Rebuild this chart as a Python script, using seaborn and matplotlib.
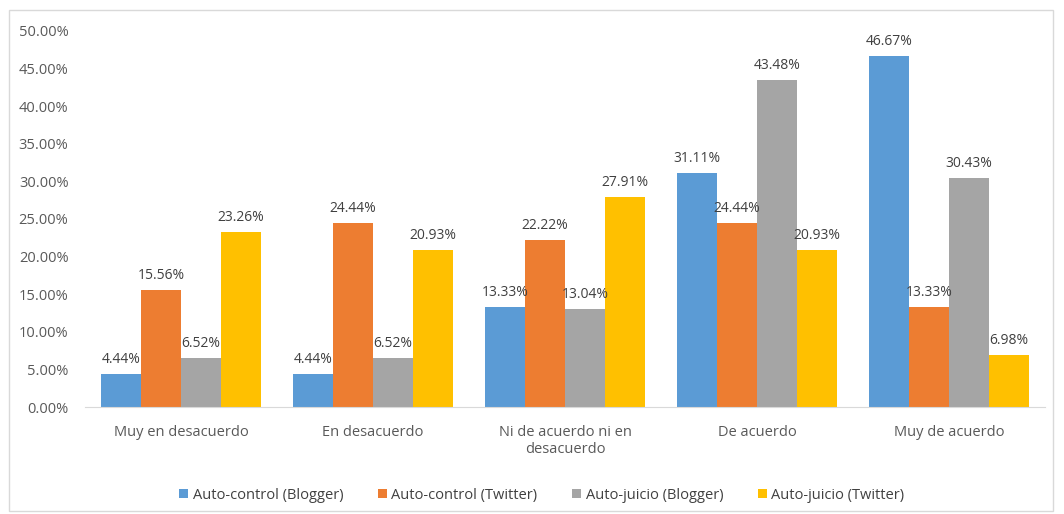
import pandas as pd
import matplotlib
matplotlib.use("Agg")
import matplotlib.pyplot as plt
import seaborn as sns
from matplotlib.patches import Rectangle

# datos
categorias = ["Muy en desacuerdo", "En desacuerdo", "Ni de acuerdo ni en\ndesacuerdo",
              "De acuerdo", "Muy de acuerdo"]
series = ["Auto-control (Blogger)", "Auto-control (Twitter)",
          "Auto-juicio (Blogger)", "Auto-juicio (Twitter)"]
control_blogger = [4.44, 4.44, 13.33, 31.11, 46.67]
control_twitter = [15.56, 24.44, 22.22, 24.44, 13.33]
juicio_blogger = [6.52, 6.52, 13.04, 43.48, 30.43]
juicio_twitter = [23.26, 20.93, 27.91, 20.93, 6.98]
colores = ["#5B9BD5", "#ED7D31", "#A5A5A5", "#FFC000"]

valores = [control_blogger, control_twitter, juicio_blogger, juicio_twitter]
df = pd.DataFrame([
    {"categoria": c, "serie": s, "valor": v / 100}
    for s, vals in zip(series, valores)
    for c, v in zip(categorias, vals)
])

sns.set_style("white")
plt.rcParams['font.family'] = ['Open Sans', 'DejaVu Sans']

fig = plt.figure(figsize=(10.64, 5.14), dpi=100)
ax = fig.add_axes([0.080, 0.208, 0.902, 0.732])
sns.barplot(data=df, x="categoria", y="valor", hue="serie", order=categorias,
            hue_order=series, palette=colores, width=0.83, saturation=1,
            errorbar=None, linewidth=0, ax=ax)

for cont in ax.containers:
    ax.bar_label(cont, labels=[f"{b.get_height()*100:.2f}%" for b in cont],
                 padding=5, fontsize=10, color="#404040")

ax.set_ylim(0, 0.5)
ax.set_yticks([i * 0.05 for i in range(11)])
ax.set_yticklabels([f"{i*5:.2f}%" for i in range(11)])
ax.set_xlabel("")
ax.set_ylabel("")
ax.tick_params(axis="both", colors="#595959", labelsize=10.5, length=0)
ax.tick_params(axis="y", pad=12)
ax.tick_params(axis="x", pad=13)
for s in ["top", "right", "left"]:
    ax.spines[s].set_visible(False)
ax.spines["bottom"].set_color("#D9D9D9")

ax.legend(loc="upper center", bbox_to_anchor=(0.476, -0.18), ncol=4, frameon=False,
          fontsize=10.5, handlelength=0.6, handleheight=0.6, columnspacing=2.4,
          handletextpad=0.3, labelcolor="#404040")

fig.patches.append(Rectangle((0.008, 0.005), 0.982, 0.975, transform=fig.transFigure,
                             fill=False, edgecolor="#D9D9D9", linewidth=1))

fig.savefig("out.png", dpi=100)
